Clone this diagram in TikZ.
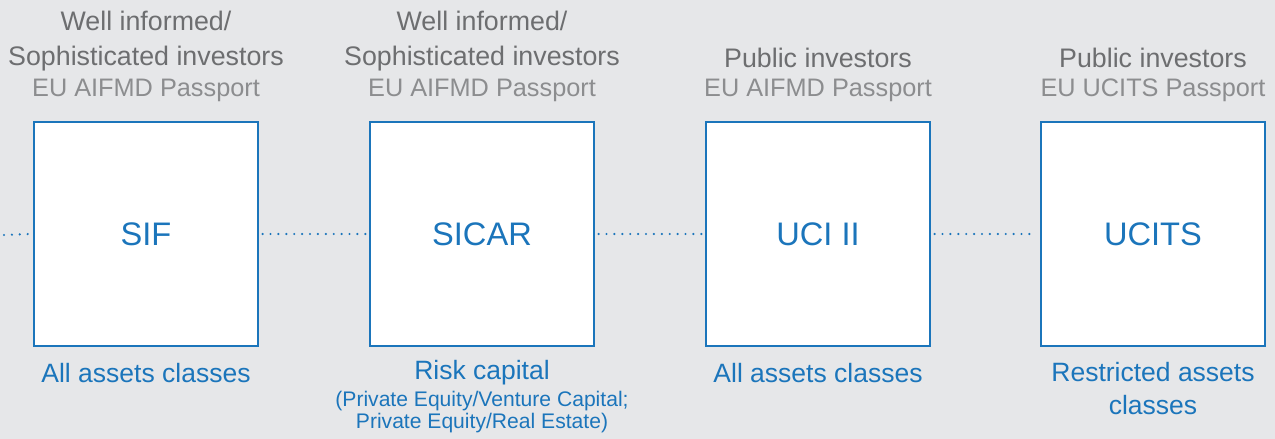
\documentclass[tikz,border=0pt]{standalone}
\usepackage{fontspec}
\setmainfont{Liberation Sans}
\definecolor{bg}{HTML}{E6E7E9}
\definecolor{dgray}{HTML}{6D6E70}
\definecolor{lgray}{HTML}{8C8D8F}
\definecolor{fblue}{HTML}{1B75BB}
\begin{document}
\begin{tikzpicture}[x=1pt,y=-1pt,
  fundbox/.style={draw=fblue,line width=1.2pt,fill=white,minimum width=224pt,minimum height=224pt,inner sep=0pt,text=fblue,font=\fontsize{32.6}{33}\selectfont},
  audience/.style={text=dgray,align=center,font=\fontsize{26.8}{35}\selectfont,inner sep=0pt},
  passport/.style={text=lgray,align=center,font=\fontsize{25.3}{28}\selectfont,inner sep=0pt},
  assets/.style={text=fblue,align=center,font=\fontsize{26.5}{33}\selectfont,inner sep=0pt},
  small/.style={text=fblue,align=center,font=\fontsize{21.1}{22}\selectfont,inner sep=0pt},
  dots/.style={draw=fblue,line width=2.4pt,line cap=round,dash pattern=on 0pt off 7.9pt}]
\useasboundingbox[fill=bg] (0,0) rectangle (1275,439);
\node[fundbox] (sif) at (146,234) {SIF};
\node[fundbox] (sicar) at (482,234) {SICAR};
\node[fundbox] (uci) at (818,234) {UCI II};
\node[fundbox] (ucits) at (1153,234) {UCITS};
\coordinate (start) at (4,235);
\draw[dots] (start) -- ([xshift=-4pt]sif.west);
\draw[dots] ([xshift=4pt]sif.east) -- ([xshift=-4pt]sicar.west);
\draw[dots] ([xshift=4pt]sicar.east) -- ([xshift=-4pt]uci.west);
\draw[dots] ([xshift=4pt]uci.east) -- ([xshift=-4pt]ucits.west);
\node[audience] (a1) at (146,41) {Well informed/\\Sophisticated investors};
\node[audience] (a2) at (482,41) {Well informed/\\Sophisticated investors};
\node[audience] (a3) at (818,58) {Public investors};
\node[audience] (a4) at (1153,58) {Public investors};
\node[passport] (p1) at (146,90) {EU AIFMD Passport};
\node[passport] (p2) at (482,90) {EU AIFMD Passport};
\node[passport] (p3) at (818,90) {EU AIFMD Passport};
\node[passport] (p4) at (1153,90) {EU UCITS Passport};
\node[assets] (b1) at (146,373) {All assets classes};
\node[assets] (b2) at (482,373) {Risk capital};
\node[small] (s2) at (482,412) {(Private Equity/Venture Capital;\\Private Equity/Real Estate)};
\node[assets] (b3) at (818,373) {All assets classes};
\node[assets] (b4) at (1153,389) {Restricted assets\\classes};
\end{tikzpicture}
\end{document}
